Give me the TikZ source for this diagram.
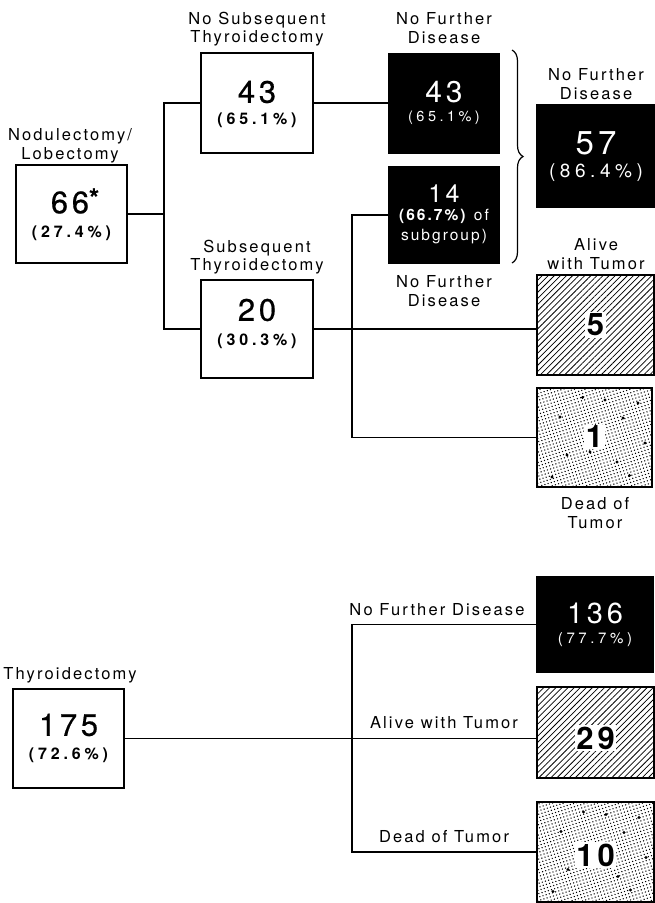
\documentclass[tikz,border=0pt]{standalone}
\usepackage{fontspec}
\setmainfont{TeX Gyre Heros}[LetterSpace=13]
\newfontfamily\pctfont{TeX Gyre Heros}[LetterSpace=24]
\newfontfamily\medfont{TeX Gyre Heros}[LetterSpace=12, FakeBold=0.5]
\usetikzlibrary{patterns.meta,decorations.pathreplacing}
\begin{document}
\begin{tikzpicture}[x=1pt,y=-1pt,
  wbox/.style={draw, line width=1.3pt, inner sep=0},
  bbox/.style={fill=black, draw=black, line width=1.3pt, inner sep=0},
  hbox/.style={draw, line width=1.5pt, inner sep=0, pattern={Lines[angle=45,distance=4.3pt,line width=0.75pt]}},
  dbox/.style={draw, line width=1.8pt, inner sep=0, pattern={Dots[radius=0.75pt,distance=3.3pt,angle=17]}},
  lbl/.style={align=center, font=\fontsize{16.5}{18.5}\selectfont, inner sep=0},
  big/.style={font=\medfont\fontsize{31}{31}\selectfont, inner sep=0},
  pct/.style={font=\pctfont\bfseries\fontsize{16}{16}\selectfont, inner sep=0},
  wbig/.style={text=white, inner sep=0},
  wpct/.style={text=white, inner sep=0},
  patnum/.style={font=\bfseries\fontsize{31}{31}\selectfont, fill=white, inner sep=1.5pt},
  conn/.style={line width=1.1pt},
  bigdot/.style={fill=black}
]
\useasboundingbox (0,0) rectangle (655,903);

% boxes
\node[wbox, minimum width=111pt, minimum height=98pt] (n66) at (71.5,214) {};
\node[wbox, minimum width=112pt, minimum height=100pt] (n43) at (257,103) {};
\node[wbox, minimum width=112pt, minimum height=98pt] (n20) at (257,329) {};
\node[bbox, minimum width=110pt, minimum height=99pt] (b43) at (444,103.5) {};
\node[bbox, minimum width=110pt, minimum height=96pt] (b14) at (444,215) {};
\node[bbox, minimum width=117pt, minimum height=102pt] (b57) at (595.5,156) {};
\node[hbox, minimum width=117pt, minimum height=100pt] (h5) at (595.5,325) {};
\node[dbox, minimum width=115pt, minimum height=99pt] (d1) at (594.5,437.5) {};
\node[wbox, minimum width=111pt, minimum height=99pt] (n175) at (68.5,738.5) {};
\node[bbox, minimum width=116pt, minimum height=95pt] (b136) at (595,624.5) {};
\node[hbox, minimum width=117pt, minimum height=91pt] (h29) at (595.5,732.5) {};
\node[dbox, minimum width=117pt, minimum height=100pt] (d10) at (595.5,852) {};

% big dots in stippled boxes
\foreach \p in {(10.5,-37.5),(-34.5,-20.5),(28.5,-19.5),(-27.5,17.5),(-4.5,14.5),(22.5,24.5),(50.5,5.5),(-42.5,39.5),(43.5,-34.5),(-12,-40),(35,38)}{
  \fill[bigdot, shift={(d1.center)}] \p circle (1.7pt);
  \fill[bigdot, shift={(d10.center)}] \p circle (1.7pt);
}

% connectors
\coordinate (j1) at (164,214);
\coordinate (c1) at (352,0);
\coordinate (c2) at (352,737);
\draw[conn] (n66.east) -- (j1);
\draw[conn] (n43.west) -| (j1) |- (n20.west);
\draw[conn] (n43.east) -- (n43.east -| b43.west);
\draw[conn] (n20.east) -- (n20.east -| h5.west);
\draw[conn] (b14.west) -- (b14.west -| c1) |- (d1.west);
\draw[conn] (n175.east) -- (n175.east -| h29.west);
\draw[conn] (b136.west) -| (c2) |- (d10.west);

% brace
\draw[line width=1.2pt, decorate, decoration={brace, amplitude=11pt}] (512,50) -- (512,263);

% labels
\node[lbl] (t66) at (70,146) {Nodulectomy/\\Lobectomy};
\node[lbl] (tNS) at (257,29) {No Subsequent\\Thyroidectomy};
\node[lbl] (tS) at (257,257) {Subsequent\\Thyroidectomy};
\node[lbl] (tNF1) at (444,28) {No Further\\Disease};
\node[lbl] (tNF2) at (596,84) {No Further\\Disease};
\node[lbl] (tNF3) at (444,291) {No Further\\Disease};
\node[lbl] (tAT) at (596,254) {Alive\\with Tumor};
\node[lbl] (tDT) at (595,513) {Dead of\\Tumor};
\node[lbl] (tTh) at (70,675) {Thyroidectomy};
\node[lbl] (tNF4) at (437,610) {No Further Disease};
\node[lbl] (tAT2) at (444,723) {Alive with Tumor};
\node[lbl] (tDT2) at (444,837) {Dead of Tumor};

% numbers in white boxes
\node[big] (v66) at (75,201) {66\raisebox{6pt}{\bfseries\fontsize{26}{26}\selectfont *}};
\node[pct] (p66) at (71.5,233) {(27.4\%)};
\node[big] (v43) at (257,92) {43};
\node[pct] (p43) at (257,120) {(65.1\%)};
\node[big] (v20) at (257,310) {20};
\node[pct] (p20) at (257,341) {(30.3\%)};
\node[big] (v175) at (68.5,725) {175};
\node[pct] (p175) at (68.5,755) {(72.6\%)};

% numbers in black boxes
\node[wbig, font=\fontsize{30}{30}\selectfont] (vb43) at (444,92) {43};
\node[wpct, font=\pctfont\fontsize{14.5}{14.5}\selectfont] (pb43) at (444,118) {(65.1\%)};
\node[wbig, font=\fontsize{25}{25}\selectfont] (vb14) at (444,194) {14};
\node[wpct, font=\fontsize{15.5}{15.5}\selectfont] (pb14) at (444,216) {\textbf{(66.7\%)} of};
\node[wpct, font=\fontsize{15.5}{15.5}\selectfont] (sb14) at (444,237) {subgroup)};
\node[wbig, font=\fontsize{33}{33}\selectfont] (vb57) at (596,143) {57};
\node[wpct, font=\pctfont\fontsize{19}{19}\selectfont] (pb57) at (596,173) {(86.4\%)};
\node[wbig, font=\fontsize{29}{29}\selectfont] (vb136) at (595,613) {136};
\node[wpct, font=\pctfont\fontsize{15}{15}\selectfont] (pb136) at (595,640) {(77.7\%)};

% numbers in patterned boxes
\node[patnum] (v5) at (595.5,325) {5};
\node[patnum] (v1) at (594.5,437) {1};
\node[patnum] (v29) at (595.5,738) {29};
\node[patnum] (v10) at (595.5,855) {10};
\end{tikzpicture}
\end{document}
